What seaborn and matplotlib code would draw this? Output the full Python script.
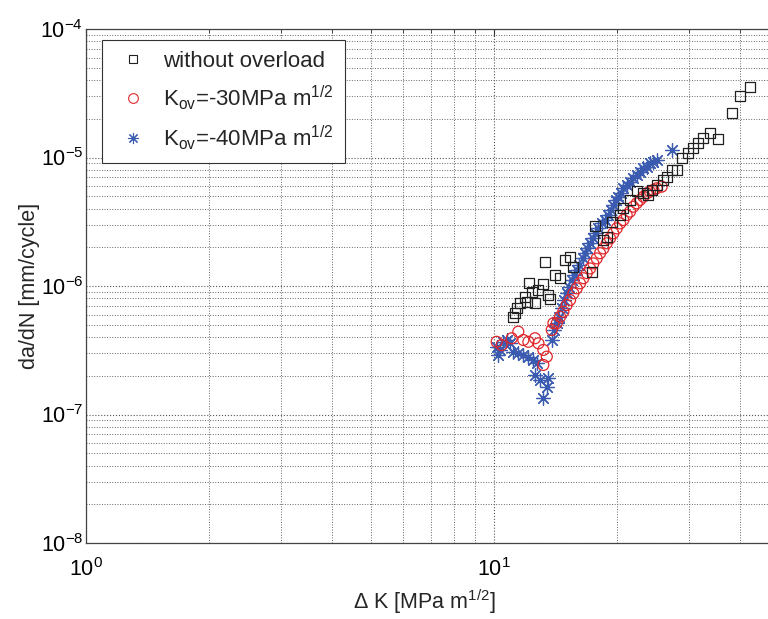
import matplotlib
matplotlib.use("Agg")
import matplotlib.pyplot as plt
import seaborn as sns
import numpy as np
import pandas as pd
from matplotlib.lines import Line2D

# ---------------- data ----------------
dk_without = [11.15, 11.26, 11.37, 11.58, 11.91, 12.03, 12.21, 12.38, 12.60, 12.84,
              13.21, 13.59, 13.72, 13.34, 14.11, 14.52, 14.93, 15.36, 15.65, 17.35,
              17.68, 18.54, 18.89, 19.44, 20.37, 20.75, 21.54, 22.37, 23.23, 23.88,
              24.35, 25.05, 26.00, 26.50, 27.27, 28.04, 28.84, 29.94, 30.80, 31.68,
              32.58, 33.83, 35.47, 38.25, 40.09, 42.48]
dadn_without = [5.71e-7, 6.13e-7, 6.71e-7, 7.33e-7, 8.25e-7, 7.55e-7, 1.05e-6, 9.03e-7, 7.33e-7, 9.31e-7,
                1.04e-6, 8.51e-7, 7.88e-7, 1.53e-6, 1.22e-6, 1.15e-6, 1.59e-6, 1.69e-6, 1.41e-6, 1.29e-6,
                2.93e-6, 2.28e-6, 2.42e-6, 3.17e-6, 3.57e-6, 4.03e-6, 4.67e-6, 5.51e-6, 5.26e-6, 5.11e-6,
                5.58e-6, 6.11e-6, 6.68e-6, 7.01e-6, 7.99e-6, 7.99e-6, 9.86e-6, 1.08e-5, 1.18e-5, 1.29e-5,
                1.41e-5, 1.54e-5, 1.39e-5, 2.21e-5, 3.03e-5, 3.56e-5]

dk_30 = [10.15, 10.44, 11.05, 11.47, 11.80, 12.14, 12.60, 12.85, 13.21, 13.47,
         13.21, 13.85, 13.98, 14.25, 14.52, 14.79, 15.07, 15.36, 15.65, 15.95,
         16.25, 16.56, 16.88, 17.20, 17.52, 17.85, 18.19, 18.54, 18.89, 19.25,
         19.61, 19.99, 20.37, 20.75, 21.14, 21.54, 21.95, 22.37, 22.80, 23.23,
         23.68, 24.12, 24.58, 25.05, 25.76]
dadn_30 = [3.68e-7, 3.47e-7, 3.92e-7, 4.41e-7, 3.80e-7, 3.68e-7, 3.92e-7, 3.58e-7, 3.18e-7, 2.82e-7,
           2.43e-7, 4.55e-7, 5.13e-7, 5.13e-7, 5.77e-7, 6.31e-7, 7.11e-7, 7.78e-7, 8.77e-7, 9.60e-7,
           1.05e-6, 1.15e-6, 1.26e-6, 1.37e-6, 1.50e-6, 1.64e-6, 1.80e-6, 1.96e-6, 2.15e-6, 2.35e-6,
           2.57e-6, 2.81e-6, 3.07e-6, 3.26e-6, 3.57e-6, 3.79e-6, 4.14e-6, 4.40e-6, 4.67e-6, 4.95e-6,
           5.26e-6, 5.42e-6, 5.58e-6, 5.76e-6, 5.93e-6]

dk_40 = [10.15, 10.24, 10.34, 10.54, 10.74, 10.94, 11.15, 11.47, 11.80, 12.14,
         12.49, 12.73, 12.60, 12.97, 13.47, 13.59, 13.21, 13.85,
         14.03, 14.25, 14.45, 14.65, 14.84, 15.07, 15.30, 15.50, 15.71, 15.95,
         16.19, 16.50, 16.72, 16.93, 17.20, 17.46, 17.68, 18.02, 18.37, 18.72,
         19.06, 19.32, 19.61, 19.91, 20.17, 20.44, 20.75, 21.14, 21.54, 21.95,
         22.37, 22.80, 23.23, 23.68, 24.12, 24.58, 25.05, 27.27]
dadn_40 = [3.37e-7, 2.90e-7, 3.19e-7, 3.68e-7, 3.80e-7, 3.58e-7, 3.08e-7, 2.99e-7, 2.90e-7, 2.82e-7,
           2.66e-7, 2.50e-7, 2.03e-7, 1.85e-7, 1.64e-7, 1.91e-7, 1.34e-7, 3.80e-7,
           4.55e-7, 5.13e-7, 5.77e-7, 6.70e-7, 7.78e-7, 8.77e-7, 9.88e-7, 1.11e-6, 1.22e-6, 1.33e-6,
           1.46e-6, 1.64e-6, 1.80e-6, 1.96e-6, 2.15e-6, 2.35e-6, 2.57e-6, 2.81e-6, 3.07e-6, 3.26e-6,
           3.57e-6, 3.90e-6, 4.27e-6, 4.67e-6, 4.95e-6, 5.26e-6, 5.76e-6, 6.11e-6, 6.48e-6, 6.89e-6,
           7.31e-6, 7.75e-6, 8.24e-6, 8.48e-6, 9.01e-6, 9.27e-6, 9.56e-6, 1.14e-5]

labels = ["without overload",
          r"K$_{\mathregular{ov}}$=-30MPa m$^{\mathregular{1/2}}$",
          r"K$_{\mathregular{ov}}$=-40MPa m$^{\mathregular{1/2}}$"]
xlabel = r"$\Delta$ K [MPa m$^{\mathregular{1/2}}$]"
ylabel = "da/dN [mm/cycle]"

# ---------------- style ----------------
sns.set_style("white")
plt.rcParams["font.family"] = ["Liberation Sans", "DejaVu Sans"]
plt.rcParams["mathtext.fontset"] = "custom"
plt.rcParams["mathtext.rm"] = "Liberation Sans"
plt.rcParams["mathtext.it"] = "Liberation Sans"
plt.rcParams["mathtext.bf"] = "Liberation Sans"
plt.rcParams["mathtext.default"] = "regular"

fig = plt.figure(figsize=(7.68, 6.19), dpi=100)
ax = fig.add_axes([86 / 768, 76 / 619, 693.2 / 768, 514 / 619])

df40 = pd.DataFrame({"dk": dk_40, "dadn": dadn_40})
df30 = pd.DataFrame({"dk": dk_30, "dadn": dadn_30})
df0 = pd.DataFrame({"dk": dk_without, "dadn": dadn_without})

blue = "#3a5bb0"
red = "#e0262b"
black = "#202020"

sns.scatterplot(data=df40, x="dk", y="dadn", marker=(8, 2, 0), s=95,
                color=blue, edgecolor=blue, linewidth=0.9, ax=ax, zorder=3)
sns.scatterplot(data=df30, x="dk", y="dadn", marker="o", s=62,
                facecolor="none", edgecolor=red, linewidth=0.9, ax=ax, zorder=4)
sns.scatterplot(data=df0, x="dk", y="dadn", marker="s", s=52,
                facecolor="none", edgecolor=black, linewidth=0.9, ax=ax, zorder=5)

ax.set_xscale("log")
ax.set_yscale("log")
ax.set_xlim(1, 50)
ax.set_ylim(1e-8, 1e-4)

ax.grid(True, which="major", linestyle=":", color="#555555", linewidth=0.8)
ax.grid(True, which="minor", linestyle=":", color="#666666", linewidth=0.7)
ax.set_axisbelow(True)

ax.tick_params(which="both", direction="in", top=True, right=True,
               labelsize=15.5, colors="#333333", labelcolor="black")
ax.tick_params(which="major", length=5)
ax.tick_params(which="minor", length=3)
ax.tick_params(axis="y", which="major", pad=2)
ax.tick_params(axis="x", which="major", pad=11)
ax.yaxis.set_minor_formatter(plt.NullFormatter())
ax.xaxis.set_minor_formatter(plt.NullFormatter())
for s in ax.spines.values():
    s.set_color("#444444")
    s.set_linewidth(0.9)

ax.set_xlabel(xlabel, fontsize=15.5)
ax.set_ylabel(ylabel, fontsize=15.5)
ax.xaxis.set_label_coords((424 - 86) / 693.2, -0.086)
ax.yaxis.set_label_coords(-0.066, 0.5)

handles = [
    Line2D([], [], linestyle="none", marker="s", markersize=6, markerfacecolor="none",
           markeredgecolor=black, markeredgewidth=0.8),
    Line2D([], [], linestyle="none", marker="o", markersize=7, markerfacecolor="none",
           markeredgecolor=red, markeredgewidth=0.8),
    Line2D([], [], linestyle="none", marker=(8, 2, 0), markersize=8,
           markeredgecolor=blue, markeredgewidth=0.8),
]
leg = ax.legend(handles, labels, loc="upper left", bbox_to_anchor=(0.023, 0.979),
                borderaxespad=0, fontsize=16, frameon=True, fancybox=False,
                edgecolor="#333333", framealpha=1, labelspacing=0.5,
                handlelength=1.8, handletextpad=0.45, borderpad=0.5)
leg.get_frame().set_linewidth(0.8)
leg.set_zorder(10)

fig.savefig("out.png", dpi=100)
